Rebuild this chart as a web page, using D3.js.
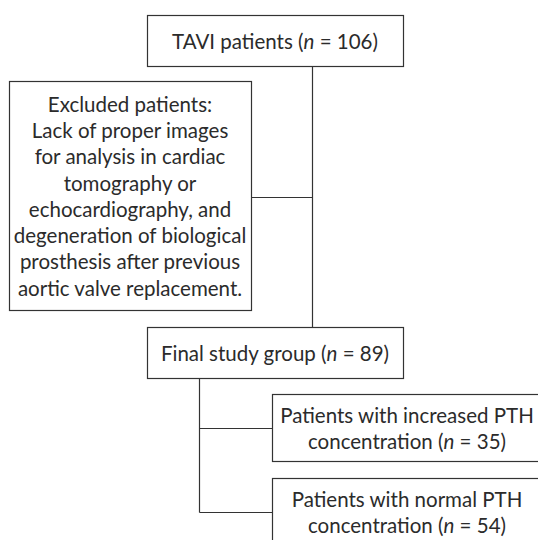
<!DOCTYPE html>
<html>
<head>
<meta charset="utf-8">
<script src="https://cdn.jsdelivr.net/npm/d3@7"></script>
<style>
  body { margin: 0; background: #fff; }
  svg text { font-family: Lato, "Noto Sans", sans-serif; fill: #2b2b2b; }
</style>
</head>
<body>
<div class="flow"></div>
<script>
// box labels, one entry per line; {n} marks the italic n
const topLabel = ["TAVI patients ({n} = 106)"];
const excludedLabel = [
    "Excluded patients:",
    "Lack of proper images",
    "for analysis in cardiac",
    "tomography or",
    "echocardiography, and",
    "degeneration of biological",
    "prosthesis after previous",
    "aortic valve replacement."
];
const finalLabel = ["Final study group ({n} = 89)"];
const groupLabels = [
    ["Patients with increased PTH", "concentration ({n} = 35)"],
    ["Patients with normal PTH", "concentration ({n} = 54)"]
];

// layout (pixels)
const layout = {
    top:      {x: 147, y: 15,  w: 256, h: 51},
    excluded: {x: 9,   y: 81,  w: 242, h: 229},
    final:    {x: 147, y: 327, w: 256, h: 51},
    groups: [
        {x: 272, y: 394, w: 270, h: 67},
        {x: 272, y: 478, w: 270, h: 67}
    ]
};

const W = 538, H = 540;
const lineH = 26.3;
const fontSize = 20.5;
const stroke = "#333";

var svg = d3.select(".flow").append("svg")
        .attr("width", W)
        .attr("height", H);

function drawBox(box, lines) {
    var g = svg.append("g");
    g.append("rect")
            .attr("x", box.x + 0.5)
            .attr("y", box.y + 0.5)
            .attr("width", box.w)
            .attr("height", box.h)
            .attr("fill", "#fff")
            .attr("stroke", stroke)
            .attr("stroke-width", 1.2);
    var cx = box.x + box.w / 2;
    var cy = box.y + box.h / 2 + 1;
    var y0 = cy - (lines.length - 1) * lineH / 2;
    var text = g.selectAll("text")
            .data(lines)
            .enter().append("text")
            .attr("x", cx)
            .attr("y", (d, i) => y0 + i * lineH)
            .attr("dy", "0.35em")
            .attr("text-anchor", "middle")
            .style("font-size", fontSize + "px");
    text.each(function (d) {
        var t = d3.select(this);
        var parts = d.split("{n}");
        parts.forEach((p, i) => {
            if (i > 0) {
                t.append("tspan").style("font-style", "italic").text("n");
            }
            t.append("tspan").text(p);
        });
    });
}

function line(pts) {
    svg.append("path")
            .attr("d", d3.line()(pts))
            .attr("fill", "none")
            .attr("stroke", stroke)
            .attr("stroke-width", 1.2);
}

// connectors
const spineX = 312.5;
line([[spineX, layout.top.y + layout.top.h], [spineX, layout.final.y]]);
line([[layout.excluded.x + layout.excluded.w, 197.5], [spineX, 197.5]]);

const branchX = 199.5;
const branchY = layout.groups.map(g => Math.round(g.y + 34) + 0.5);
line([[branchX, layout.final.y + layout.final.h], [branchX, branchY[branchY.length - 1]]]);
branchY.forEach(y => line([[branchX, y], [layout.groups[0].x, y]]));

drawBox(layout.top, topLabel);
drawBox(layout.excluded, excludedLabel);
drawBox(layout.final, finalLabel);
layout.groups.forEach((g, i) => drawBox(g, groupLabels[i]));
</script>
</body>
</html>
